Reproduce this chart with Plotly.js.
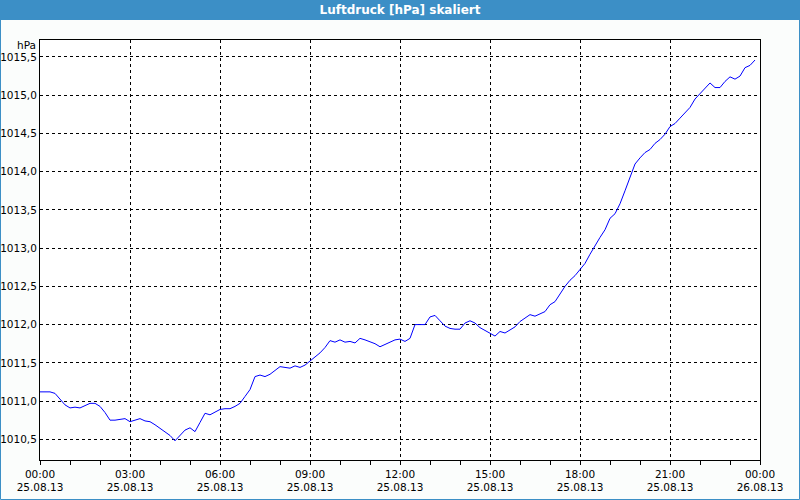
<!DOCTYPE html>
<html>
<head>
<meta charset="utf-8">
<script src="https://cdn.plot.ly/plotly-3.0.1.min.js"></script>
<style>
html,body{margin:0;padding:0;background:#fbfdfc;}
#chart{width:800px;height:500px;}
</style>
</head>
<body>
<div id="chart"></div>
<script>
const day = "2013-08-25";
const times = [
"00:00","00:10","00:20","00:30","00:40","00:50","01:00","01:10","01:20","01:30","01:40","01:50",
"02:00","02:10","02:20","02:30","02:40","02:50","03:00","03:10","03:20","03:30","03:40","03:50",
"04:00","04:10","04:20","04:30","04:40","04:50","05:00","05:10","05:20","05:30","05:40","05:50",
"06:00","06:10","06:20","06:30","06:40","06:50","07:00","07:10","07:20","07:30","07:40","07:50",
"08:00","08:10","08:20","08:30","08:40","08:50","09:00","09:10","09:20","09:30","09:40","09:50",
"10:00","10:10","10:20","10:30","10:40","10:50","11:00","11:10","11:20","11:30","11:40","11:50",
"12:00","12:10","12:20","12:30","12:40","12:50","13:00","13:10","13:20","13:30","13:40","13:50",
"14:00","14:10","14:20","14:30","14:40","14:50","15:00","15:10","15:20","15:30","15:40","15:50",
"16:00","16:10","16:20","16:30","16:40","16:50","17:00","17:10","17:20","17:30","17:40","17:50",
"18:00","18:10","18:20","18:30","18:40","18:50","19:00","19:10","19:20","19:30","19:40","19:50",
"20:00","20:10","20:20","20:30","20:40","20:50","21:00","21:10","21:20","21:30","21:40","21:50",
"22:00","22:10","22:20","22:30","22:40","22:50","23:00","23:10","23:20","23:30","23:40","23:50"
];
const pressure = [
1011.12,1011.12,1011.12,1011.10,1011.02,1010.95,1010.91,1010.92,1010.91,1010.94,1010.97,1010.97,
1010.93,1010.85,1010.75,1010.75,1010.76,1010.77,1010.73,1010.75,1010.77,1010.74,1010.73,1010.69,
1010.64,1010.60,1010.55,1010.48,1010.55,1010.62,1010.65,1010.60,1010.72,1010.84,1010.82,1010.86,
1010.89,1010.90,1010.90,1010.93,1010.97,1011.06,1011.15,1011.32,1011.34,1011.32,1011.35,1011.40,
1011.45,1011.44,1011.43,1011.46,1011.44,1011.47,1011.52,1011.58,1011.63,1011.70,1011.79,1011.77,
1011.80,1011.77,1011.78,1011.76,1011.82,1011.80,1011.78,1011.75,1011.71,1011.74,1011.77,1011.80,
1011.81,1011.78,1011.82,1012.00,1012.00,1012.00,1012.10,1012.12,1012.05,1011.98,1011.95,1011.94,
1011.94,1012.02,1012.05,1012.02,1011.96,1011.92,1011.89,1011.85,1011.91,1011.89,1011.93,1011.97,
1012.04,1012.08,1012.13,1012.11,1012.14,1012.17,1012.26,1012.30,1012.40,1012.50,1012.58,1012.64,
1012.72,1012.80,1012.92,1013.04,1013.14,1013.24,1013.39,1013.45,1013.58,1013.75,1013.94,1014.10,
1014.18,1014.25,1014.29,1014.37,1014.42,1014.49,1014.59,1014.63,1014.70,1014.77,1014.84,1014.95,
1015.02,1015.10,1015.16,1015.10,1015.10,1015.18,1015.24,1015.21,1015.25,1015.36,1015.39,1015.46
];
const titleText = "Luftdruck [hPa] skaliert";
const unitText = "hPa";

const x = times.map(t => day + " " + t);
const font = {family: "Tahoma, 'DejaVu Sans', sans-serif", size: 10.5, color: "#000"};

const trace = {x: x, y: pressure, type: "scatter", mode: "lines",
  line: {color: "#0000ff", width: 1}, hoverinfo: "skip"};

const L = 40, R = 40, T = 40, B = 40, W = 800, H = 500;
const pw = W - L - R, ph = H - T - B;
const px = v => (v - L) / pw;
const py = v => 1 - (v - T) / ph;

const layout = {
  width: W, height: H,
  margin: {l: L, r: R, t: T, b: B, pad: 0},
  paper_bgcolor: "#fbfdfc", plot_bgcolor: "#ffffff",
  separators: ",.",
  font: font,
  showlegend: false,
  title: {text: "<b>" + titleText + "</b>", font: {family: "Tahoma, 'DejaVu Sans', sans-serif", size: 12, color: "#ffffff"},
    x: 0.5, xanchor: "center", y: 1 - 10 / H, yanchor: "middle", yref: "container"},
  xaxis: {
    type: "date", range: ["2013-08-25 00:00", "2013-08-26 00:00"],
    tickmode: "linear", tick0: "2013-08-25 00:00", dtick: 3 * 3600000,
    tickformat: "%H:%M<br>%d.%m.%y",
    ticks: "outside", ticklen: 4, tickcolor: "#000",
    showgrid: true, gridcolor: "#000", griddash: "3px,3px", gridwidth: 1,
    showline: true, linecolor: "#000", linewidth: 1, mirror: true,
    zeroline: false, fixedrange: true,
    minor: {dtick: 3600000, ticks: "outside", ticklen: 4, tickcolor: "#000", showgrid: false},
    tickfont: font
  },
  yaxis: {
    range: [1010.229, 1015.722],
    tickmode: "linear", tick0: 1010.5, dtick: 0.5, tickformat: ".1f",
    ticks: "", showgrid: true, gridcolor: "#000", griddash: "3px,3px", gridwidth: 1,
    showline: true, linecolor: "#000", linewidth: 1, mirror: true,
    zeroline: false, fixedrange: true, tickfont: font
  },
  shapes: [
    {type: "rect", xref: "paper", yref: "paper", x0: px(0), x1: px(W), y0: py(0), y1: py(20),
      fillcolor: "#3c8fc6", line: {width: 0}, layer: "below"},
    {type: "rect", xref: "paper", yref: "paper", x0: px(0.5), x1: px(W - 0.5), y0: py(0.5), y1: py(H - 0.5),
      fillcolor: "rgba(0,0,0,0)", line: {color: "#3c8fc6", width: 1}, layer: "below"}
  ],
  annotations: [
    {text: unitText, xref: "paper", yref: "paper", x: 0, y: 1, xanchor: "right", yanchor: "middle",
      xshift: -2, yshift: -5, showarrow: false, font: font}
  ]
};

Plotly.newPlot("chart", [trace], layout, {displayModeBar: false, staticPlot: true});
</script>
</body>
</html>
